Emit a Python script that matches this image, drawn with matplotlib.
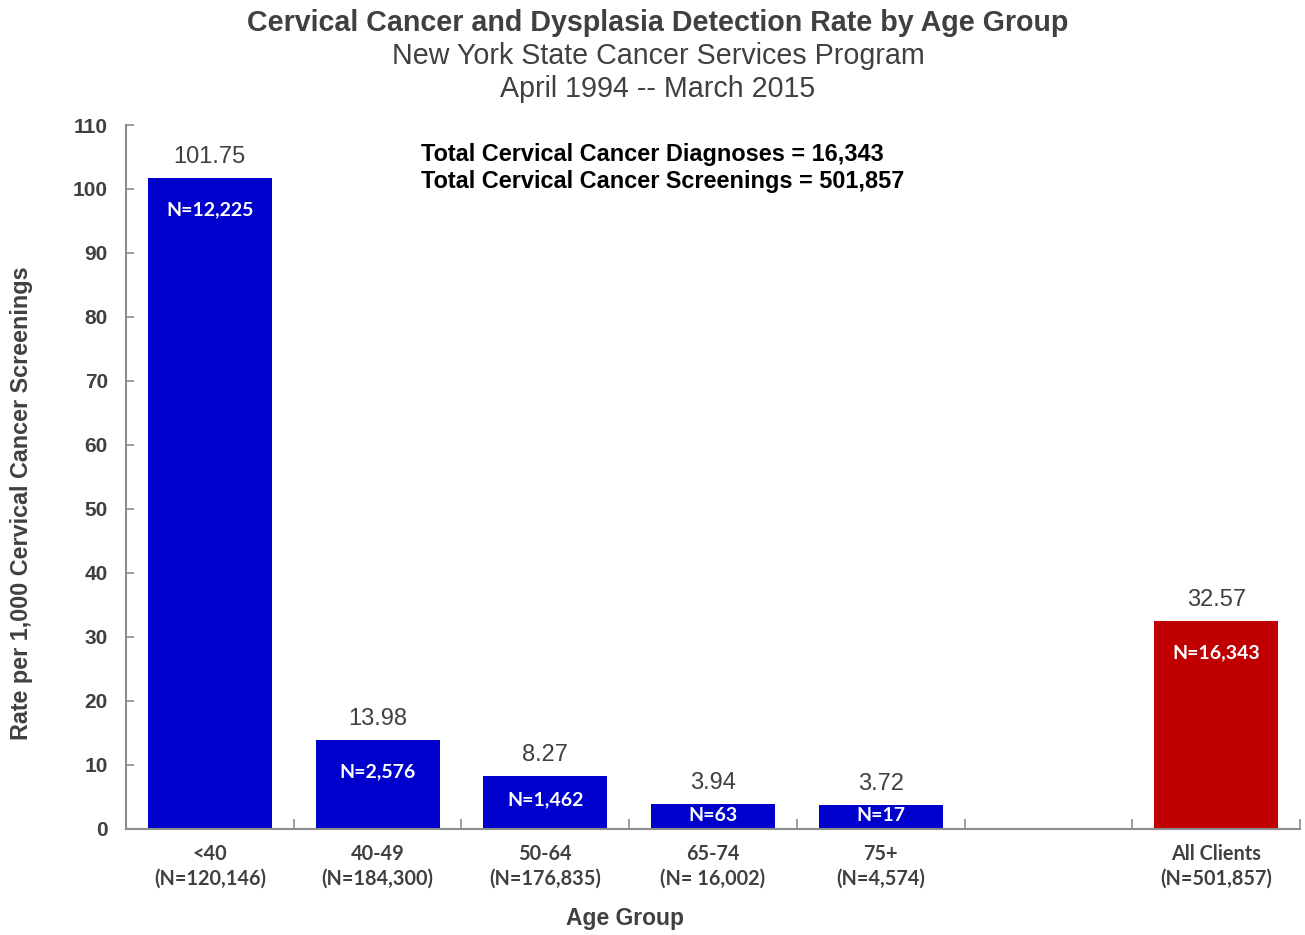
import numpy as np
import matplotlib; matplotlib.use("Agg")
import matplotlib.pyplot as plt

# data
groups = ["<40", "40-49", "50-64", "65-74", "75+", "", "All Clients"]
screened = ["(N=120,146)", "(N=184,300)", "(N=176,835)", "(N= 16,002)", "(N=4,574)", "", "(N=501,857)"]
rates = [101.75, 13.98, 8.27, 3.94, 3.72, np.nan, 32.57]
diagnoses = ["N=12,225", "N=2,576", "N=1,462", "N=63", "N=17", "", "N=16,343"]
totals = ["Total Cervical Cancer Diagnoses = 16,343", "Total Cervical Cancer Screenings = 501,857"]

BLUE, RED, GREY, AX = "#0000CC", "#C00000", "#404040", "#8C8C8C"
SANS = ["Liberation Sans", "DejaVu Sans"]
NARROW = ["Lato", "DejaVu Sans"]

fig = plt.figure(figsize=(13.05, 9.35), dpi=100)
ax = fig.add_axes([126/1305, 1-829/935, (1300-126)/1305, (829-125)/935])

x = np.arange(len(groups))
cols = [RED if g == "All Clients" else BLUE for g in groups]
ax.bar(x, np.nan_to_num(rates), width=0.74, color=cols, zorder=2)

for xi, r, n in zip(x, rates, diagnoses):
    if np.isnan(r):
        continue
    ax.annotate(f"{r:.2f}", (xi, r), xytext=(0, 21), textcoords="offset pixels",
                ha="center", va="center", fontsize=17, color=GREY, family=SANS)
    ax.text(xi, r - min(5.0, r*0.45), n, ha="center", va="center", fontsize=14,
            fontweight="bold", color="white", family=NARROW)

ax.set_xlim(-0.5, len(groups)-0.5)
ax.set_ylim(0, 110)
ax.set_yticks(np.arange(0, 111, 10))
ax.tick_params(axis="y", direction="in", length=6, width=1.2, color=AX, labelsize=15,
               labelcolor=GREY, pad=13)
for t in ax.get_yticklabels():
    t.set_fontweight("bold"); t.set_family(SANS)

ax.set_xticks(x)
ax.set_xticklabels([f"{g}\n{s}" for g, s in zip(groups, screened)], family=NARROW,
                   fontsize=14.3, fontweight="bold", color=GREY, linespacing=1.3)
ax.set_xticks(np.arange(-0.5, len(groups)), minor=True)
ax.tick_params(axis="x", which="major", length=0, pad=11)
ax.tick_params(axis="x", which="minor", direction="in", length=7, width=1.2, color=AX)

for s in ["top", "right"]:
    ax.spines[s].set_visible(False)
for s in ["left", "bottom"]:
    ax.spines[s].set_color(AX); ax.spines[s].set_linewidth(1.5)

fig.text(421/1305, 1-155/935, totals[0], ha="left", va="center", fontsize=16.9, fontweight="bold", family=SANS)
fig.text(421/1305, 1-182/935, totals[1], ha="left", va="center", fontsize=16.9, fontweight="bold", family=SANS)

fig.text(658/1305, 1-23/935, "Cervical Cancer and Dysplasia Detection Rate by Age Group",
         ha="center", va="center", fontsize=20.6, fontweight="bold", color=GREY, family=SANS)
fig.text(658/1305, 1-56/935, "New York State Cancer Services Program",
         ha="center", va="center", fontsize=20.6, color=GREY, family=SANS)
fig.text(658/1305, 1-89/935, "April 1994 -- March 2015",
         ha="center", va="center", fontsize=20.6, color=GREY, family=SANS)

fig.text(22/1305, 1-503/935, "Rate per 1,000 Cervical Cancer Screenings", rotation=90,
         ha="center", va="center", fontsize=16.8, fontweight="bold", color=GREY, family=SANS)
fig.text(625/1305, 1-919/935, "Age Group", ha="center", va="center", fontsize=16.5,
         fontweight="bold", color=GREY, family=SANS)

fig.savefig("out.png", dpi=100)
